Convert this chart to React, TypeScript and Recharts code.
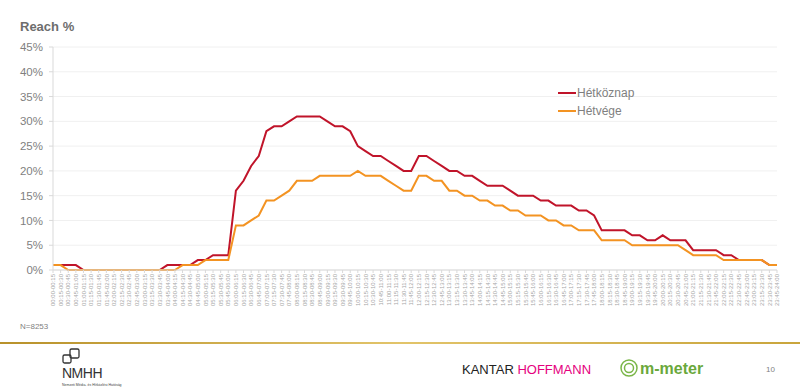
import React from "react";
import { CartesianGrid, Line, LineChart, XAxis, YAxis } from "recharts";

const FONT = "'Liberation Sans', Arial, sans-serif";
const RED = "#c0142a";
const ORANGE = "#f39322";

// quarter-hour slots
const slots = [
  "00:00-00:15", "00:15-00:30", "00:30-00:45", "00:45-01:00",
  "01:00-01:15", "01:15-01:30", "01:30-01:45", "01:45-02:00",
  "02:00-02:15", "02:15-02:30", "02:30-02:45", "02:45-03:00",
  "03:00-03:15", "03:15-03:30", "03:30-03:45", "03:45-04:00",
  "04:00-04:15", "04:15-04:30", "04:30-04:45", "04:45-05:00",
  "05:00-05:15", "05:15-05:30", "05:30-05:45", "05:45-06:00",
  "06:00-06:15", "06:15-06:30", "06:30-06:45", "06:45-07:00",
  "07:00-07:15", "07:15-07:30", "07:30-07:45", "07:45-08:00",
  "08:00-08:15", "08:15-08:30", "08:30-08:45", "08:45-09:00",
  "09:00-09:15", "09:15-09:30", "09:30-09:45", "09:45-10:00",
  "10:00-10:15", "10:15-10:30", "10:30-10:45", "10:45-11:00",
  "11:00-11:15", "11:15-11:30", "11:30-11:45", "11:45-12:00",
  "12:00-12:15", "12:15-12:30", "12:30-12:45", "12:45-13:00",
  "13:00-13:15", "13:15-13:30", "13:30-13:45", "13:45-14:00",
  "14:00-14:15", "14:15-14:30", "14:30-14:45", "14:45-15:00",
  "15:00-15:15", "15:15-15:30", "15:30-15:45", "15:45-16:00",
  "16:00-16:15", "16:15-16:30", "16:30-16:45", "16:45-17:00",
  "17:00-17:15", "17:15-17:30", "17:30-17:45", "17:45-18:00",
  "18:00-18:15", "18:15-18:30", "18:30-18:45", "18:45-19:00",
  "19:00-19:15", "19:15-19:30", "19:30-19:45", "19:45-20:00",
  "20:00-20:15", "20:15-20:30", "20:30-20:45", "20:45-21:00",
  "21:00-21:15", "21:15-21:30", "21:30-21:45", "21:45-22:00",
  "22:00-22:15", "22:15-22:30", "22:30-22:45", "22:45-23:00",
  "23:00-23:15", "23:15-23:30", "23:30-23:45", "23:45-24:00",
];

// reach %, weekdays
const hetkoznap = [
  1, 1, 1, 1, 0, 0, 0, 0, 0, 0, 0, 0, 0, 0, 0, 1, 1, 1, 1, 2, 2, 3, 3, 3,
  16, 18, 21, 23, 28, 29, 29, 30, 31, 31, 31, 31,
  30, 29, 29, 28, 25, 24, 23, 23, 22, 21,
  20, 20, 23, 23, 22, 21, 20, 20, 19, 19,
  18, 17, 17, 17, 16, 15, 15, 15, 14, 14,
  13, 13, 13, 12, 12, 11,
  8, 8, 8, 8, 7, 7, 6, 6, 7, 6, 6, 6,
  4, 4, 4, 4, 3, 3, 2, 2, 2, 2, 1, 1,
];

// reach %, weekend
const hetvege = [
  1, 1, 0, 0, 0, 0, 0, 0, 0, 0, 0, 0, 0, 0, 0, 0, 0, 1, 1, 1, 2, 2, 2, 2,
  9, 9, 10, 11, 14, 14, 15, 16, 18, 18, 18, 19,
  19, 19, 19, 19, 20, 19, 19, 19, 18, 17,
  16, 16, 19, 19, 18, 18, 16, 16, 15, 15,
  14, 14, 13, 13, 12, 12, 11, 11, 11, 10,
  10, 9, 9, 8, 8, 8,
  6, 6, 6, 6, 5, 5, 5, 5, 5, 5, 5, 4,
  3, 3, 3, 3, 2, 2, 2, 2, 2, 2, 1, 1,
];

const yTicks = [0, 5, 10, 15, 20, 25, 30, 35, 40, 45];

const series = [
  { key: "hetkoznap", name: "Hétköznap", color: RED },
  { key: "hetvege", name: "Hétvége", color: ORANGE },
];

const data = slots.map((slot, i) => ({
  slot,
  hetkoznap: hetkoznap[i],
  hetvege: hetvege[i],
}));

const SlotTick = (props: any) => {
  const { x, y, payload } = props;
  return (
    <text
      x={x}
      y={y}
      dy={2.2}
      transform={`rotate(-90, ${x}, ${y})`}
      textAnchor="end"
      fontSize={6}
      fontFamily={FONT}
      fill="#a6a6a6"
    >
      {payload.value}
    </text>
  );
};

export default function App() {
  return (
    <div style={{ position: "relative", width: 800, height: 392, background: "#fff", overflow: "hidden" }}>
      <style>{`body{margin:0}`}</style>
      <div
        style={{
          position: "absolute", left: 20, top: 19, fontFamily: FONT, fontSize: 13,
          fontWeight: "bold", color: "#6d6d6d",
        }}
      >
        Reach %
      </div>
      <LineChart width={800} height={340} data={data} margin={{ top: 47, right: 23, bottom: 0, left: 0 }}>
        <CartesianGrid vertical={false} stroke="#f0f0f0" />
        <XAxis
          dataKey="slot"
          interval={0}
          height={70}
          tick={<SlotTick />}
          tickSize={3}
          tickMargin={1}
          stroke="#d9d9d9"
        />
        <YAxis
          width={53}
          domain={[0, 45]}
          ticks={yTicks}
          tickFormatter={(v: number) => `${v}%`}
          tick={{ fontSize: 11.5, fill: "#7f7f7f", fontFamily: FONT }}
          tickSize={4}
          tickMargin={6}
          stroke="#d9d9d9"
        />
        {series.map((s) => (
          <Line
            key={s.key}
            type="linear"
            dataKey={s.key}
            name={s.name}
            stroke={s.color}
            strokeWidth={2}
            dot={false}
            isAnimationActive={false}
          />
        ))}
      </LineChart>
      <div style={{ position: "absolute", left: 558, top: 84, fontFamily: FONT }}>
        {series.map((s) => (
          <div
            key={s.key}
            style={{ display: "flex", alignItems: "center", height: 18, fontSize: 12, color: "#7f7f7f" }}
          >
            <span style={{ width: 18, height: 2, background: s.color, marginRight: 1 }} />
            {s.name}
          </div>
        ))}
      </div>
      <div style={{ position: "absolute", left: 20, top: 322, fontFamily: FONT, fontSize: 8, color: "#7f7f7f" }}>
        N=8253
      </div>
      <svg width={800} height={60} style={{ position: "absolute", left: 0, top: 334 }}>
        <defs>
          <linearGradient id="gold" x1="0" x2="1" y1="0" y2="0">
            <stop offset="0" stopColor="#b8912a" />
            <stop offset="0.5" stopColor="#e2c46a" />
            <stop offset="1" stopColor="#c9a53c" />
          </linearGradient>
        </defs>
        <rect x={0} y={8} width={800} height={2} fill="url(#gold)" />
        {/* NMHH */}
        <rect x={70} y={15} width={9} height={9} rx={1.5} fill="none" stroke="#333" strokeWidth={1.3} />
        <rect x={63} y={21} width={8} height={8} rx={1.5} fill="none" stroke="#333" strokeWidth={1.3} />
        <text x={62} y={44} fontFamily={FONT} fontSize={14} fill="#333" letterSpacing={-0.5}>
          NMHH
        </text>
        <text x={62} y={52} fontFamily={FONT} fontSize={3.5} fill="#444">
          Nemzeti Média- és Hírközlési Hatóság
        </text>
        {/* Kantar */}
        <text x={462} y={40} fontFamily={FONT} fontSize={13} fill="#222">
          KANTAR <tspan fill="#e5007e">HOFFMANN</tspan>
        </text>
        {/* m-meter */}
        <circle cx={629} cy={34} r={8} fill="none" stroke="#7ab648" strokeWidth={1.5} />
        <circle cx={629} cy={34} r={4.5} fill="none" stroke="#7ab648" strokeWidth={1.5} />
        <text x={640} y={40} fontFamily={FONT} fontSize={16} fontWeight="bold" fill="#6aa83b">
          m-meter
        </text>
        <text x={766} y={38} fontFamily={FONT} fontSize={8} fill="#7f7f7f">
          10
        </text>
      </svg>
    </div>
  );
}
